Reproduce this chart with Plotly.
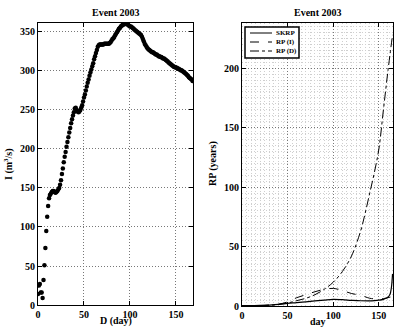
import plotly.graph_objects as go

# ---- Left panel: I vs D ----
D_day = list(range(0, 169))
I_flow = [14, 25, 27, 16, 16, 9, 32, 51, 73, 95,
          113, 127, 137, 141, 143, 145, 146, 146, 145, 144,
          145, 146, 148, 150, 154, 160, 168, 175, 183, 190,
          196, 203, 209, 215, 221, 227, 233, 238, 243, 247,
          252, 253, 250, 248, 247, 248, 250, 253, 256, 261,
          266, 270, 275, 280, 285, 289, 294, 298, 302, 306,
          310, 315, 319, 323, 327, 331, 333, 334, 334, 334,
          334, 334, 335, 335, 335, 335, 335, 335, 336, 337,
          339, 341, 342, 344, 346, 348, 350, 352, 354, 355,
          357, 358, 359, 360, 360, 361, 361, 360, 359, 358,
          357, 357, 356, 355, 354, 353, 352, 351, 350, 349,
          348, 347, 346, 344, 341, 338, 335, 333, 331, 329,
          328, 327, 326, 325, 324, 324, 323, 322, 321, 321,
          320, 319, 319, 318, 318, 317, 316, 316, 315, 314,
          313, 312, 311, 310, 309, 308, 307, 306, 305, 305,
          304, 304, 303, 303, 302, 301, 301, 300, 299, 298,
          297, 296, 295, 294, 292, 291, 290, 289, 287]

# ---- Right panel: return periods ----
rp_day = [0, 10, 20, 30, 40, 50, 60, 70, 80, 90, 100, 110, 120, 130, 140,
          145, 150, 155, 158, 160, 162, 163, 164, 165]
skrp = [0.3, 0.4, 0.5, 0.8, 1.3, 2.2, 2.8, 3.5, 4.3, 5.0, 5.6, 5.3, 4.8, 4.4, 4.3,
        4.5, 4.9, 5.6, 6.5, 7.5, 9.5, 12, 17, 27]

rpi_day = [0, 10, 20, 30, 40, 50, 60, 70, 80, 90, 100, 110, 120, 130, 140,
           145, 150, 155, 160, 165]
rp_i = [0.2, 0.3, 0.4, 0.8, 1.5, 3.5, 7, 9.5, 12, 14, 14.8, 13, 10.5, 9, 6.5,
        6, 5.8, 6.2, 7, 8]

rpd_day = [0, 10, 20, 30, 40, 50, 60, 70, 80, 90, 100, 110, 120, 130, 135, 140,
           145, 150, 155, 160, 165]
rp_d = [0.1, 0.2, 0.3, 0.6, 1.2, 2.5, 4.5, 6.5, 9.5, 14, 20, 29, 42, 63, 78, 95,
        112, 132, 165, 198, 228]

series_names = ["SKRP", "RP (I)", "RP (D)"]
series_dash = ["solid", "dash", "dashdot"]
title_text = "Event 2003"
W, H = 394, 327

FONT = "Liberation Serif"
tickf = dict(family=FONT, size=10, color="black", weight="bold")


def px_x(p):
    return p / W


def px_y(p):
    return (H - p) / H


fig = go.Figure()
fig.add_trace(go.Scatter(x=D_day, y=I_flow, mode="markers",
                         marker=dict(color="black", size=4.5),
                         xaxis="x", yaxis="y", showlegend=False))
for xs, ys, nm, ds, w in [(rp_day, skrp, series_names[0], series_dash[0], 1.2),
                          (rpi_day, rp_i, series_names[1], series_dash[1], 1),
                          (rpd_day, rp_d, series_names[2], series_dash[2], 1)]:
    fig.add_trace(go.Scatter(x=xs, y=ys, mode="lines", name=nm,
                             line=dict(color="black", width=w, dash=ds, shape="spline"),
                             xaxis="x2", yaxis="y2", showlegend=False))

axis_common = dict(showline=True, linecolor="black", linewidth=1, mirror="ticks",
                   ticks="inside", ticklen=4, tickcolor="black",
                   tickfont=tickf, zeroline=False, automargin=False,
                   showgrid=True, gridcolor="#777", griddash="1px,2px", gridwidth=1)

minor = dict(dtick=5, showgrid=True, gridcolor="#cfcfcf", griddash="1px,2px", gridwidth=1,
             ticks="")

fig.update_layout(
    width=W, height=H,
    margin=dict(l=0, r=0, t=0, b=0, autoexpand=False),
    paper_bgcolor="white", plot_bgcolor="white",
    xaxis=dict(domain=[px_x(38), px_x(193)], range=[0, 168.5], dtick=50,
               anchor="y", **axis_common),
    yaxis=dict(domain=[px_y(305), px_y(23)], range=[0, 361.5], dtick=50,
               anchor="x", **axis_common),
    xaxis2=dict(domain=[px_x(242), px_x(393)], range=[0, 165.5], dtick=50,
                anchor="y2", minor=minor, **axis_common),
    yaxis2=dict(domain=[px_y(306), px_y(23)], range=[0, 238], dtick=50,
                anchor="x2", minor=minor, **axis_common),
    showlegend=False,
)

# compact legend box, like the original
fig.add_shape(type="rect", xref="paper", yref="paper",
              x0=px_x(245), x1=px_x(299), y0=px_y(58), y1=px_y(27),
              line=dict(color="black", width=1.5), fillcolor="white", layer="above")
leg_y = [33, 42, 51]
for yy, nm, ds in zip(leg_y, series_names, series_dash):
    fig.add_shape(type="line", xref="paper", yref="paper",
                  x0=px_x(250), x1=px_x(272), y0=px_y(yy), y1=px_y(yy),
                  line=dict(color="black", width=1, dash=ds), layer="above")
    fig.add_annotation(text=nm, x=px_x(274), y=px_y(yy), xref="paper", yref="paper",
                       xanchor="left", yanchor="middle", showarrow=False,
                       font=dict(family=FONT, size=7, color="black", weight="bold"))

ann_font = dict(family=FONT, size=10, color="black", weight="bold")
labels = [
    (title_text, 115.5, 12, 0),
    (title_text, 317.5, 12, 0),
    ("D (day)", 115.5, 321, 0),
    ("day", 317.5, 321, 0),
    ("I (m<sup>3</sup>/s)", 9, 164, -90),
    ("RP (years)", 213, 164, -90),
]
for txt, xx, yy, ang in labels:
    fig.add_annotation(text=txt, x=px_x(xx), y=px_y(yy), xref="paper", yref="paper",
                       xanchor="center", yanchor="middle", showarrow=False,
                       font=ann_font, textangle=ang)

fig.write_html("out.html")
